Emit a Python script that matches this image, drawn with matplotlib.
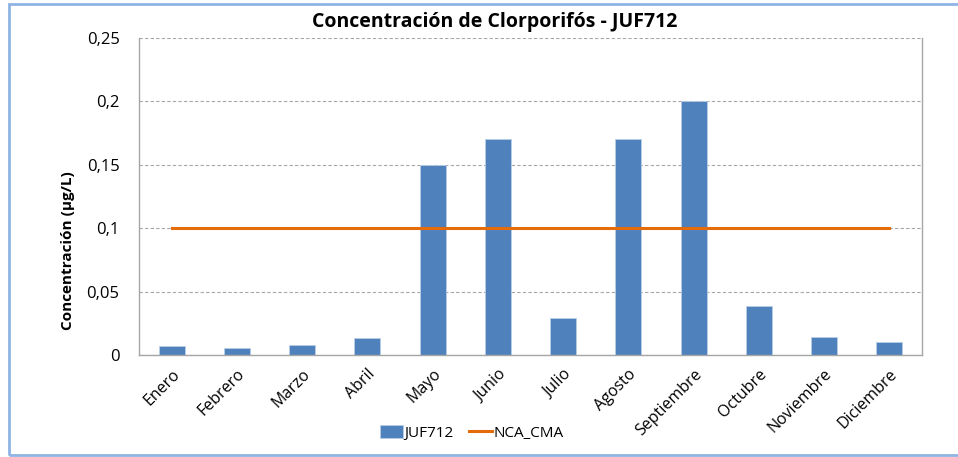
import matplotlib.pyplot as plt
from matplotlib.patches import Rectangle
import numpy as np

# data
meses = ['Enero', 'Febrero', 'Marzo', 'Abril', 'Mayo', 'Junio', 'Julio',
         'Agosto', 'Septiembre', 'Octubre', 'Noviembre', 'Diciembre']
juf712 = [0.007, 0.0058, 0.008, 0.0132, 0.15, 0.17, 0.029,
          0.17, 0.2, 0.039, 0.014, 0.0102]
nca_cma = [0.1] * 12
yticks = [0, 0.05, 0.1, 0.15, 0.2, 0.25]
ytick_labels = ['0', '0,05', '0,1', '0,15', '0,2', '0,25']

plt.rcParams['font.family'] = ['Open Sans', 'DejaVu Sans']

fig = plt.figure(figsize=(9.58, 4.57), dpi=100)
ax = fig.add_axes([139 / 958, 1 - 355 / 457, 783 / 958, 317 / 457])

x = np.arange(len(meses))
barras = ax.bar(x, juf712, width=0.4, color='#4F81BD', edgecolor='#B9CDE5',
                linewidth=0.6, label='JUF712', zorder=2)
linea, = ax.plot(x, nca_cma, color='#E46C0A', linewidth=2.2, label='NCA_CMA',
                 zorder=3)

ax.set_xlim(-0.5, len(meses) - 0.5)
ax.set_ylim(0, 0.25)
ax.set_yticks(yticks)
ax.set_yticklabels(ytick_labels, fontsize=12)
ax.set_xticks(x)
ax.set_xticklabels(meses, fontsize=11.5, rotation=45, ha='right',
                   rotation_mode='anchor')
ax.tick_params(length=0)
ax.tick_params(axis='y', pad=14)
ax.tick_params(axis='x', pad=8)

ax.yaxis.grid(True, linestyle=(0, (3, 2)), color='#A6A6A6', linewidth=0.8)
ax.set_axisbelow(True)
for s in ['left', 'bottom', 'right']:
    ax.spines[s].set_color('#A6A6A6')
    ax.spines[s].set_linewidth(1.0)
ax.spines['top'].set_visible(False)

# in the original the axis title sits a bit below the middle
ax.set_ylabel('Concentración (µg/L)', fontsize=11, fontweight='bold',
              va='center')
ax.yaxis.set_label_coords(-0.0907, 0.328)

fig.text(495 / 958, 1 - 22 / 457, 'Concentración de Clorporifós - JUF712',
         ha='center', va='center', fontsize=14, fontweight='bold')

fig.legend([barras, linea], ['JUF712', 'NCA_CMA'], loc='center',
           bbox_to_anchor=(472 / 958, 1 - 433 / 457), ncol=2,
           frameon=False, fontsize=11, handlelength=1.5, handleheight=0.9,
           handletextpad=0.1, columnspacing=1.0)

# outer chart frame
fig.patches.append(Rectangle((9 / 958, 2 / 457), 960 / 958, 451 / 457,
                             transform=fig.transFigure, fill=False,
                             edgecolor='#8EB4E3', linewidth=2))

fig.savefig('out.png', dpi=100)
